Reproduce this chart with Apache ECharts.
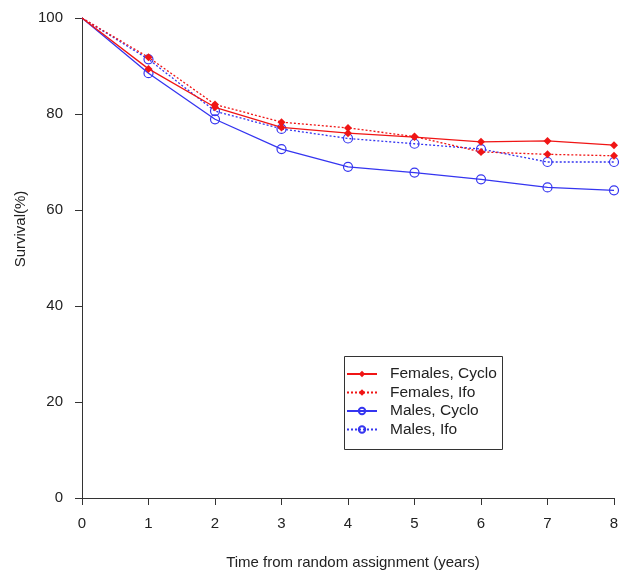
<!DOCTYPE html>
<html>
<head>
<meta charset="utf-8">
<script src="https://cdn.jsdelivr.net/npm/echarts@6/dist/echarts.min.js"></script>
<style>
html,body{margin:0;padding:0;background:#fff;}
#chart{width:622px;height:571px;}
</style>
</head>
<body>
<div id="chart"></div>
<script>
var years = [0, 1, 2, 3, 4, 5, 6, 7, 8];
var femalesCyclo = [100, 89.4, 81.4, 77.2, 76.0, 75.2, 74.2, 74.4, 73.5];
var femalesIfo   = [100, 91.8, 82.0, 78.3, 77.1, 75.3, 72.1, 71.6, 71.3];
var malesCyclo   = [100, 88.5, 78.9, 72.7, 69.0, 67.8, 66.4, 64.7, 64.1];
var malesIfo     = [100, 91.4, 80.6, 76.9, 74.9, 73.8, 72.7, 70.0, 70.0];
var seriesNames = ['Females, Cyclo', 'Females, Ifo', 'Males, Cyclo', 'Males, Ifo'];
var xTitle = 'Time from random assignment (years)';
var yTitle = 'Survival(%)';

var RED = '#f01515';
var BLUE = '#3535f0';
var FONT = '"Liberation Sans", Arial, sans-serif';

function mk(vals) {
  return vals.map(function (v, i) {
    var d = { value: [years[i], v] };
    if (i === 0) d.symbol = 'none';
    return d;
  });
}

function redSeries(name, vals, dotted) {
  return {
    name: name, type: 'line', data: mk(vals),
    symbol: 'diamond', symbolSize: 8,
    itemStyle: { color: RED },
    lineStyle: { color: RED, width: 1.3, type: dotted ? [2, 2] : 'solid' },
    emphasis: { disabled: true }, animation: false, z: 3
  };
}
function blueSeries(name, vals, dotted) {
  return {
    name: name, type: 'line', data: mk(vals),
    symbol: 'circle', symbolSize: 9,
    itemStyle: { color: 'rgba(0,0,0,0)', borderColor: BLUE, borderWidth: 1.2 },
    lineStyle: { color: BLUE, width: 1.3, type: dotted ? [2, 2] : 'solid' },
    emphasis: { disabled: true }, animation: false, z: 2
  };
}

var chart = echarts.init(document.getElementById('chart'), null, { renderer: 'canvas' });
chart.setOption({
  backgroundColor: '#fff',
  animation: false,
  grid: { left: 82, right: 8, top: 18, bottom: 73, containLabel: false },
  xAxis: {
    type: 'value', min: 0, max: 8, interval: 1,
    axisLine: { show: true, lineStyle: { color: '#333', width: 1 } },
    axisTick: { show: true, length: 7, lineStyle: { color: '#333' } },
    axisLabel: { color: '#222', fontSize: 15, fontFamily: FONT, margin: 18 },
    splitLine: { show: false }
  },
  yAxis: {
    type: 'value', min: 0, max: 100, interval: 20,
    axisLine: { show: true, lineStyle: { color: '#333', width: 1 } },
    axisTick: { show: true, length: 7, lineStyle: { color: '#333' } },
    axisLabel: { color: '#222', fontSize: 15, fontFamily: FONT, margin: 19 },
    splitLine: { show: false }
  },
  legend: {
    orient: 'vertical', left: 342, top: 354,
    padding: [12, 4, 10, 4],
    itemWidth: 30, itemHeight: 8, itemGap: 2.5,
    data: seriesNames,
    textStyle: { color: '#222', fontSize: 15.5, fontFamily: FONT, padding: [0, 0, 0, 8] },
    selectedMode: false
  },
  graphic: [
    {
      type: 'rect', left: 342, top: 354, z: 10,
      shape: { width: 158, height: 93 },
      style: { fill: 'none', stroke: '#333', lineWidth: 1 }
    },
    {
      type: 'text', x: 21, y: 229, rotation: Math.PI / 2,
      style: { text: yTitle, fill: '#222', font: '15px ' + FONT, align: 'center', verticalAlign: 'middle' }
    },
    {
      type: 'text', x: 353, y: 563,
      style: { text: xTitle, fill: '#222', font: '15px ' + FONT, align: 'center', verticalAlign: 'middle' }
    }
  ],
  series: [
    redSeries(seriesNames[0], femalesCyclo, false),
    redSeries(seriesNames[1], femalesIfo, true),
    blueSeries(seriesNames[2], malesCyclo, false),
    blueSeries(seriesNames[3], malesIfo, true)
  ]
});
</script>
</body>
</html>
